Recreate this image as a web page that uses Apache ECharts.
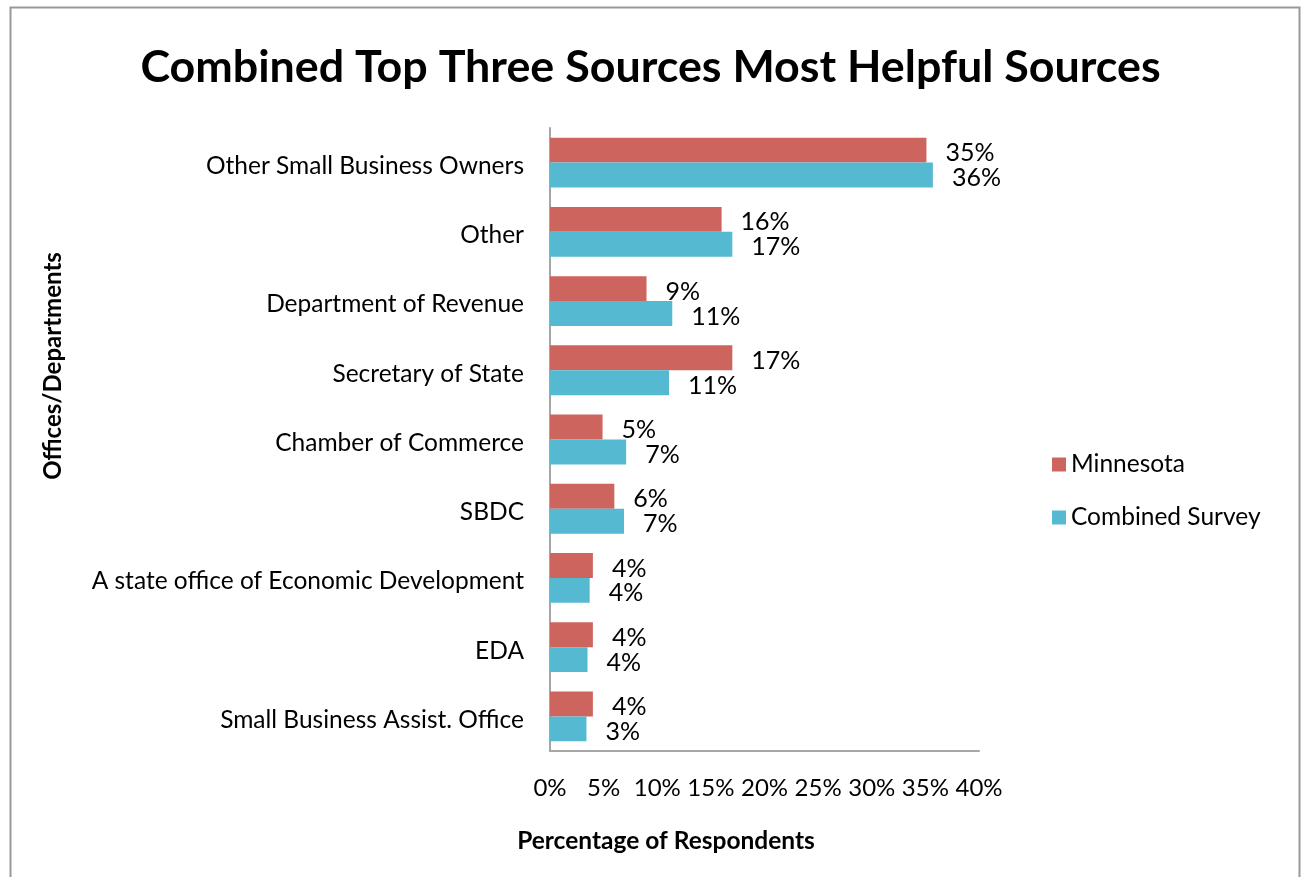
<!DOCTYPE html>
<html>
<head>
<meta charset="utf-8">
<script src="https://cdn.jsdelivr.net/npm/echarts@6/dist/echarts.min.js"></script>
<style>
html,body{margin:0;padding:0;background:#fff;}
#c{width:1301px;height:877px;}
</style>
</head>
<body>
<div id="c"></div>
<script>
const categories = ["Other Small Business Owners","Other","Department of Revenue","Secretary of State","Chamber of Commerce","SBDC","A state office of Economic Development","EDA","Small Business Assist. Office"];
const minnesota = [35.1, 16.0, 9.0, 17.0, 4.9, 6.0, 4.0, 4.0, 4.0];
const combinedSurvey = [35.7, 17.0, 11.4, 11.1, 7.1, 6.9, 3.7, 3.5, 3.4];
const seriesNames = ["Minnesota", "Combined Survey"];
const xTicks = [0, 5, 10, 15, 20, 25, 30, 35, 40];

const FONT = 'Lato';
const chart = echarts.init(document.getElementById('c'));
const labelCfg = {
  show: true, position: 'right', distance: 19, offset: [0, 3],
  fontFamily: FONT, fontSize: 25, color: '#000',
  formatter: p => Math.round(p.value) + '%'
};
chart.setOption({
  animation: false,
  backgroundColor: '#fff',
  title: {
    text: 'Combined Top Three Sources Most Helpful Sources',
    left: 'center', top: 40,
    textStyle: {fontFamily: FONT, fontWeight: 'bold', fontSize: 44.8, color: '#000'}
  },
  graphic: [
    {type: 'rect', shape: {x: 10.5, y: 7.5, width: 1289, height: 880}, style: {fill: 'none', stroke: '#999', lineWidth: 2}, silent: true},
    {type: 'text', x: 53, y: 366, rotation: Math.PI/2, style: {text: 'Offices/Departments', fontFamily: FONT, fontWeight: 'bold', fontSize: 24, fill: '#000', align: 'center', verticalAlign: 'middle'}},
    {type: 'text', x: 666, y: 841, style: {text: 'Percentage of Respondents', fontFamily: FONT, fontWeight: 'bold', fontSize: 24.5, fill: '#000', align: 'center', verticalAlign: 'middle'}}
  ],
  legend: {
    orient: 'vertical', left: 1047, top: 447,
    itemWidth: 14, itemHeight: 14, itemGap: 28,
    icon: 'rect',
    textStyle: {fontFamily: FONT, fontSize: 24.5, color: '#000'},
    data: seriesNames
  },
  grid: {left: 550, right: 322, top: 128, bottom: 126, containLabel: false},
  xAxis: {
    type: 'value', min: 0, max: 40, interval: 5,
    axisLine: {show: true, lineStyle: {color: '#a6a6a6', width: 2}},
    axisTick: {show: false},
    splitLine: {show: false},
    axisLabel: {fontFamily: FONT, fontSize: 24, color: '#000', margin: 25, formatter: v => v + '%', showMinLabel: true, showMaxLabel: true}
  },
  yAxis: {
    type: 'category', data: categories, inverse: true,
    axisLine: {show: true, lineStyle: {color: '#a6a6a6', width: 2}},
    axisTick: {show: false},
    axisLabel: {
      margin: 26,
      formatter: v => '{a|' + v + '}',
      rich: {a: {fontFamily: FONT, fontSize: 24.5, color: '#000', padding: [7, 0, 0, 0]}}
    }
  },
  series: [
    {name: seriesNames[0], type: 'bar', data: minnesota, itemStyle: {color: '#CD645E'}, barGap: '0%', barCategoryGap: '28%', label: labelCfg},
    {name: seriesNames[1], type: 'bar', data: combinedSurvey, itemStyle: {color: '#56B9D2'}, barGap: '0%', barCategoryGap: '28%', label: labelCfg}
  ]
});
</script>
</body>
</html>
